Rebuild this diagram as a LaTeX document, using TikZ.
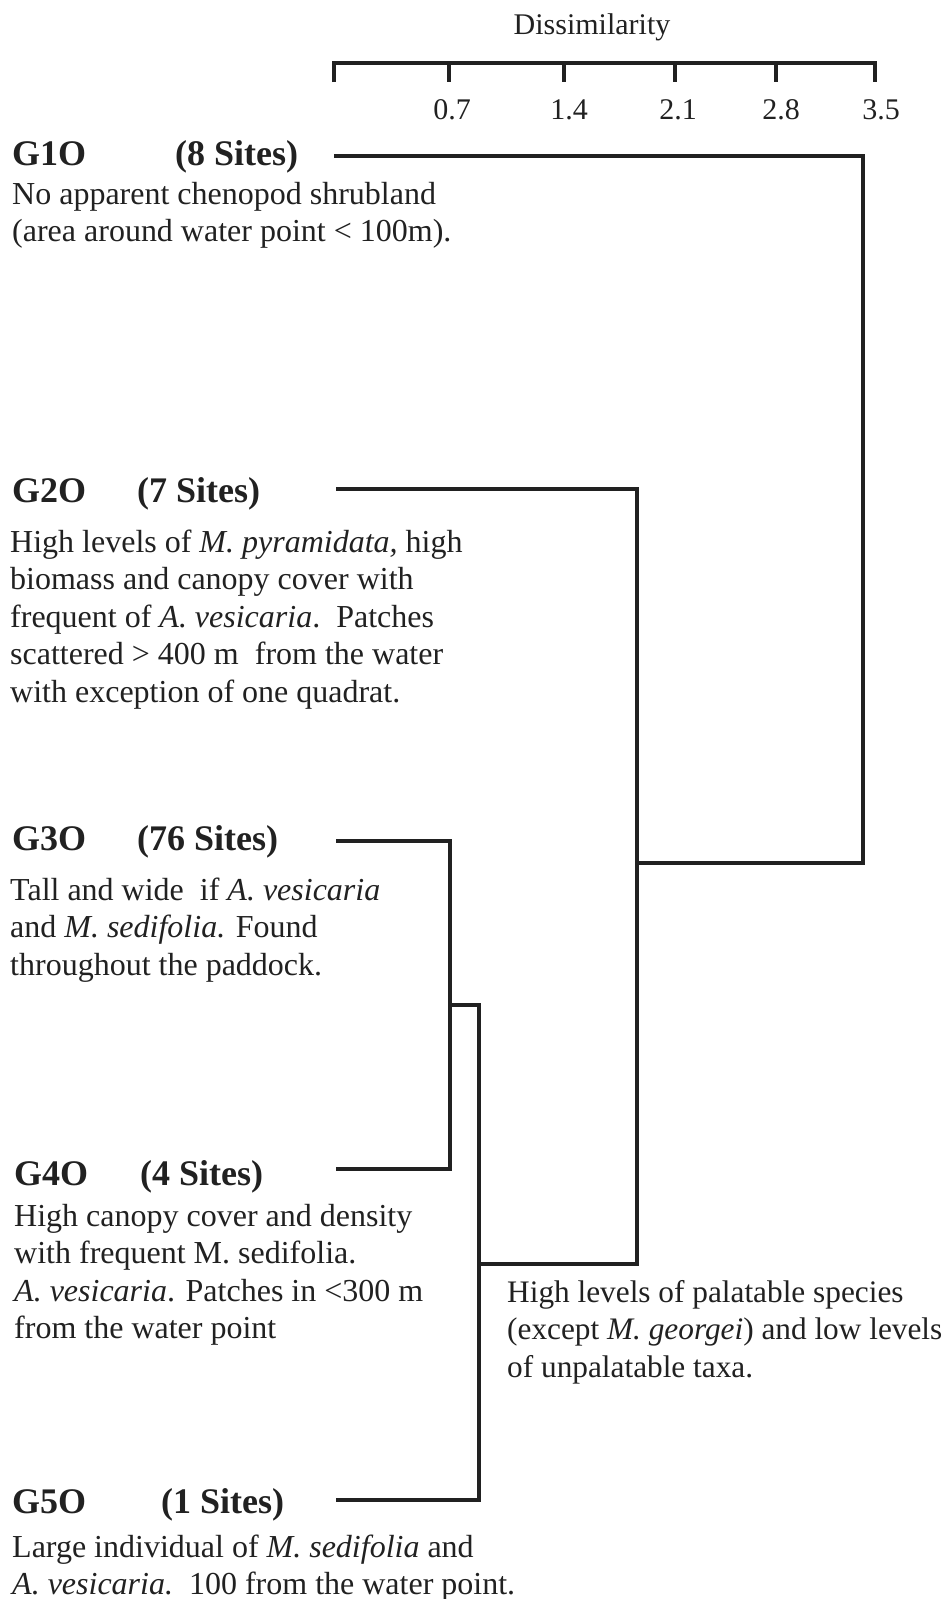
\documentclass[tikz,border=0pt]{standalone}
\usepackage{fontspec}
\setmainfont{Liberation Serif}
\definecolor{ink}{gray}{0.13}
\begin{document}
\begin{tikzpicture}[x=1pt,y=-1pt,
  body/.style={anchor=base west, inner sep=0pt, align=left, font=\fontsize{32}{37.5}\selectfont, text=ink},
  head/.style={anchor=base west, inner sep=0pt, font=\fontsize{36}{40}\selectfont\bfseries, text=ink},
  axlab/.style={anchor=base, inner sep=0pt, font=\fontsize{30}{36}\selectfont, text=ink},
  branch/.style={draw=ink, line width=4pt, line join=miter, line cap=butt}]
\useasboundingbox[fill=white] (0,0) rectangle (949,1599);

% axis
\node[axlab] (title) at (592,34) {Dissimilarity};
\coordinate (a0) at (334,63);
\coordinate (a1) at (449,63);
\coordinate (a2) at (564,63);
\coordinate (a3) at (675,63);
\coordinate (a4) at (776,63);
\coordinate (a5) at (875,63);
\draw[branch] ([yshift=-19pt]a0) -- (a0) -- (a5) -- ([yshift=-19pt]a5);
\foreach \i in {1,2,3,4} \draw[branch] (a\i) -- ([yshift=-19pt]a\i);
\node[axlab] (l1) at (452,119) {0.7};
\node[axlab] (l2) at (569,119) {1.4};
\node[axlab] (l3) at (678,119) {2.1};
\node[axlab] (l4) at (781,119) {2.8};
\node[axlab] (l5) at (881,119) {3.5};

% headers
\node[head] (h1) at (12,165) {\makebox[163pt][l]{G1O}(8 Sites)};
\node[head] (h2) at (12,502) {\makebox[125pt][l]{G2O}(7 Sites)};
\node[head] (h3) at (12,850) {\makebox[125pt][l]{G3O}(76 Sites)};
\node[head] (h4) at (14,1185) {\makebox[126pt][l]{G4O}(4 Sites)};
\node[head] (h5) at (12,1513) {\makebox[149pt][l]{G5O}(1 Sites)};

% descriptions (anchored at the baseline of their last line)
\node[body] (t1) at (12,241.5) {No apparent chenopod shrubland\\(area around water point < 100m).};
\node[body] (t2) at (10,702) {High levels of \textit{M. pyramidata,} high\\biomass and canopy cover with\\frequent of \textit{A. vesicaria}.\ \ Patches\\scattered > 400 m\ \ from the water\\with exception of one quadrat.};
\node[body] (t3) at (10,975) {Tall and wide\ \ if \textit{A. vesicaria}\\and \textit{M. sedifolia.} Found\\throughout the paddock.};
\node[body] (t4) at (14,1338.5) {High canopy cover and density\\with frequent M. sedifolia.\\\textit{A. vesicaria}. Patches in <300 m\\from the water point};
\node[body] (t5) at (12,1594.5) {Large individual of \textit{M. sedifolia} and\\\textit{A. vesicaria.}\ \ 100 from the water point.};
\node[body, font=\fontsize{31.3}{37.5}\selectfont] (t6) at (507,1377) {High levels of palatable species\\(except \textit{M. georgei}) and low levels\\of unpalatable taxa.};

% dendrogram
\coordinate (g1) at (334,156);
\coordinate (g2) at (336,489);
\coordinate (g3) at (336,841);
\coordinate (g4) at (336,1169);
\coordinate (g5) at (336,1500);
\coordinate (c34) at (450,1005);
\coordinate (c34r) at (479,1005);
\coordinate (c345) at (479,1264);
\coordinate (c2345b) at (637,1264);
\coordinate (c2345) at (637,863);
\coordinate (call) at (863,863);

\draw[branch] (g3) -| (c34) |- (g4);
\draw[branch] (c34) -- (c34r) |- (g5);
\draw[branch] (g2) -| (c2345b) -- (c345);
\draw[branch] (g1) -| (call) -- (c2345);
\end{tikzpicture}
\end{document}
